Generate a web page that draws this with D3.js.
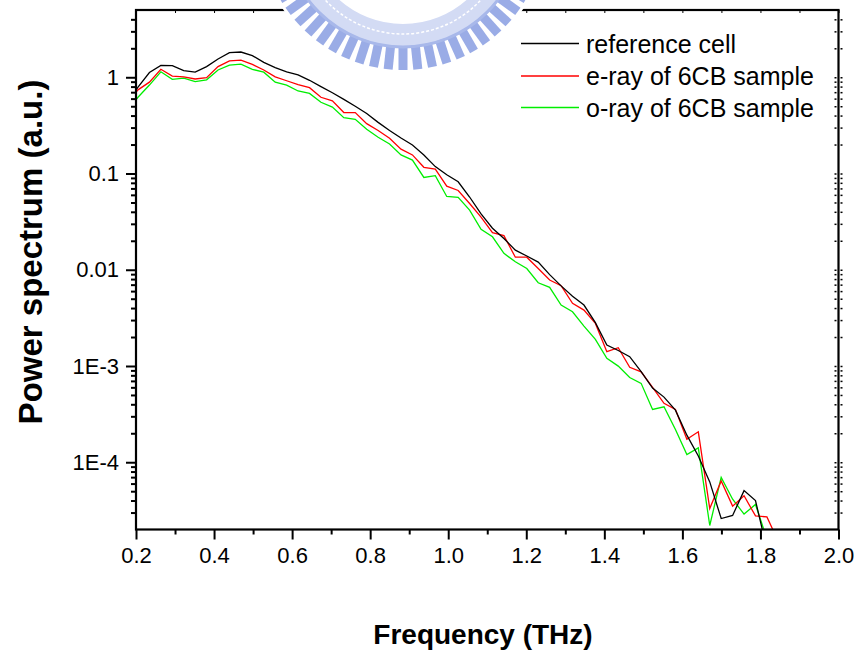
<!DOCTYPE html>
<html>
<head>
<meta charset="utf-8">
<script src="https://cdn.jsdelivr.net/npm/d3@7/dist/d3.min.js"></script>
<style>
  html, body { margin: 0; padding: 0; background: #fff; }
  svg { display: block; }
  text { font-family: Arial, "Liberation Sans", sans-serif; }
</style>
</head>
<body>
<svg id="chart" width="858" height="656"></svg>
<script>
// ---------------- data ----------------
const freqs = [0.1758, 0.2051, 0.2344, 0.2637, 0.2930, 0.3223, 0.3516, 0.3809, 0.4102, 0.4395,
  0.4688, 0.4981, 0.5274, 0.5567, 0.5860, 0.6153, 0.6446, 0.6739, 0.7032, 0.7325,
  0.7618, 0.7911, 0.8204, 0.8497, 0.8790, 0.9083, 0.9376, 0.9669, 0.9962, 1.0255,
  1.0548, 1.0841, 1.1134, 1.1427, 1.1720, 1.2013, 1.2306, 1.2599, 1.2892, 1.3185,
  1.3478, 1.3771, 1.4064, 1.4357, 1.4650, 1.4943, 1.5236, 1.5529, 1.5822, 1.6115,
  1.6408, 1.6701, 1.6994, 1.7287, 1.7580, 1.7873, 1.8166, 1.8459];

const refCell = [0.53, 0.79, 1.12, 1.33, 1.32, 1.17, 1.13, 1.29, 1.55, 1.80,
  1.83, 1.68, 1.43, 1.26, 1.14, 1.06, 0.93, 0.80, 0.69, 0.59,
  0.50, 0.42, 0.34, 0.28, 0.234, 0.198, 0.156, 0.118, 0.097, 0.082,
  0.057, 0.038, 0.027, 0.0211, 0.0160, 0.0139, 0.0120, 0.0089, 0.0068, 0.0053,
  0.0043, 0.00282, 0.00165, 0.00145, 0.00125, 0.000875, 0.000589, 0.000475, 0.000348, 0.000191,
  0.000116, 6.25e-5, 2.6e-5, 2.8e-5, 5.07e-5, 4.0e-5, 1.25e-5];

const eRay = [0.54, 0.74, 0.89, 1.21, 1.03, 1.01, 0.96, 0.99, 1.29, 1.48,
  1.51, 1.36, 1.19, 1.01, 0.92, 0.84, 0.78, 0.62, 0.57, 0.43,
  0.43, 0.33, 0.28, 0.232, 0.179, 0.156, 0.116, 0.111, 0.074, 0.0666,
  0.0488, 0.0353, 0.0243, 0.0226, 0.0135, 0.0135, 0.0103, 0.00781, 0.00682, 0.00448,
  0.00381, 0.00277, 0.00141, 0.00155, 0.00097, 0.00087, 0.0006, 0.00041, 0.000354, 0.000173,
  0.000207, 3.3e-5, 6.4e-5, 3.5e-5, 4.48e-5, 2.77e-5, 2.7e-5, 1.5e-5];

const oRay = [0.44, 0.62, 0.83, 1.14, 0.95, 0.98, 0.90, 0.94, 1.19, 1.34,
  1.37, 1.21, 1.13, 0.89, 0.83, 0.72, 0.68, 0.55, 0.49, 0.38,
  0.366, 0.288, 0.238, 0.203, 0.156, 0.138, 0.091, 0.095, 0.0577, 0.0566,
  0.0417, 0.0263, 0.0220, 0.0148, 0.0121, 0.0103, 0.00733, 0.00656, 0.00430, 0.00366,
  0.0026, 0.00189, 0.0012, 0.000997, 0.00076, 0.00066, 0.000354, 0.000377, 0.000219, 0.00012,
  0.000141, 2.2e-5, 6.95e-5, 4.13e-5, 2.89e-5, 3.64e-5, 1.6e-5];

const seriesNames = ["reference cell", "e-ray of 6CB sample", "o-ray of 6CB sample"];
const seriesColors = ["#000000", "#ff0000", "#00ee00"];

const xMajorTicks = [0.2, 0.4, 0.6, 0.8, 1.0, 1.2, 1.4, 1.6, 1.8, 2.0];
const xTickLabels = ["0.2", "0.4", "0.6", "0.8", "1.0", "1.2", "1.4", "1.6", "1.8", "2.0"];
const xMinorTicks = [0.3, 0.5, 0.7, 0.9, 1.1, 1.3, 1.5, 1.7, 1.9];
const yMajorTicks = [1e-4, 1e-3, 1e-2, 1e-1, 1];
const yTickLabels = ["1E-4", "1E-3", "0.01", "0.1", "1"];
const yMinorTicks = [3e-5, 4e-5, 5e-5, 6e-5, 7e-5, 8e-5, 9e-5,
  2e-4, 3e-4, 4e-4, 5e-4, 6e-4, 7e-4, 8e-4, 9e-4,
  2e-3, 3e-3, 4e-3, 5e-3, 6e-3, 7e-3, 8e-3, 9e-3,
  2e-2, 3e-2, 4e-2, 5e-2, 6e-2, 7e-2, 8e-2, 9e-2,
  0.2, 0.3, 0.4, 0.5, 0.6, 0.7, 0.8, 0.9, 2, 3, 4];

const xTitle = "Frequency (THz)";
const yTitle = "Power spectrum (a.u.)";

// ---------------- layout ----------------
const svg = d3.select("#chart");
const L = 136, R = 838.5, T = 10, B = 529.5;

const x = d3.scaleLinear().domain([0.2, 2.0]).range([L, R]);
const y = d3.scaleLog().domain([2e-5, 5]).range([B, T]);

svg.append("defs").append("clipPath").attr("id", "plotclip")
  .append("rect").attr("x", L).attr("y", T).attr("width", R - L).attr("height", B - T);

// data lines
const seriesData = [refCell, eRay, oRay];
const line = d3.line().x(d => x(d[0])).y(d => y(d[1]));
const plot = svg.append("g").attr("clip-path", "url(#plotclip)");
[2, 1, 0].forEach(i => {
  const pts = seriesData[i].map((v, k) => [freqs[k], v]);
  plot.append("path").datum(pts)
    .attr("d", line)
    .attr("fill", "none")
    .attr("stroke", seriesColors[i])
    .attr("stroke-width", 1.3)
    .attr("stroke-linejoin", "miter");
});

// axes
const axisStyle = g => {
  g.select(".domain").remove();
  g.selectAll("line").attr("stroke", "#000").attr("stroke-width", 2);
  g.selectAll("text").attr("fill", "#000").attr("font-size", 22);
};

// bottom
svg.append("g").attr("transform", `translate(0,${B})`)
  .call(d3.axisBottom(x).tickValues(xMajorTicks).tickSize(10).tickPadding(8)
    .tickFormat((d, i) => xTickLabels[i]))
  .call(axisStyle);
svg.append("g").attr("transform", `translate(0,${B})`)
  .call(d3.axisBottom(x).tickValues(xMinorTicks).tickSize(5).tickFormat(""))
  .call(axisStyle);
// top (small inward ticks)
svg.append("g").attr("transform", `translate(0,${T})`)
  .call(d3.axisBottom(x).tickValues(xMajorTicks.concat(xMinorTicks)).tickSize(3).tickFormat(""))
  .call(axisStyle)
  .selectAll("line").attr("stroke-width", 1);
// left
svg.append("g").attr("transform", `translate(${L},0)`)
  .call(d3.axisLeft(y).tickValues(yMajorTicks).tickSize(10).tickPadding(7)
    .tickFormat((d, i) => yTickLabels[i]))
  .call(axisStyle);
svg.append("g").attr("transform", `translate(${L},0)`)
  .call(d3.axisLeft(y).tickValues(yMinorTicks).tickSize(5).tickFormat(""))
  .call(axisStyle);
// right (tiny ticks both sides)
svg.append("g").attr("transform", `translate(${R + 2},0)`)
  .call(d3.axisRight(y).tickValues(yMajorTicks.concat(yMinorTicks)).tickSize(2).tickFormat(""))
  .call(axisStyle)
  .selectAll("line").attr("stroke-width", 1.5);
svg.append("g").attr("transform", `translate(${R - 2},0)`)
  .call(d3.axisLeft(y).tickValues(yMajorTicks.concat(yMinorTicks)).tickSize(2).tickFormat(""))
  .call(axisStyle)
  .selectAll("line").attr("stroke-width", 1.5);

// frame
svg.append("rect").attr("x", L).attr("y", T).attr("width", R - L).attr("height", B - T)
  .attr("fill", "none").attr("stroke", "#000").attr("stroke-width", 2.2);

// axis titles
svg.append("text").attr("x", 483).attr("y", 644).attr("text-anchor", "middle")
  .attr("font-size", 28).attr("font-weight", "bold").text(xTitle);
svg.append("text").attr("transform", "translate(42,252) rotate(-90)")
  .attr("text-anchor", "middle").attr("font-size", 33).attr("font-weight", "bold").text(yTitle);

// legend
const legY = [43.5, 76, 107.5];
seriesNames.forEach((name, i) => {
  svg.append("line").attr("x1", 521).attr("x2", 579).attr("y1", legY[i]).attr("y2", legY[i])
    .attr("stroke", seriesColors[i]).attr("stroke-width", 1.3);
  svg.append("text").attr("x", 586).attr("y", legY[i] + 9).attr("font-size", 25)
    .attr("fill", "#000").text(name);
});

// watermark emblem (decorative, partially visible at top)
const wm = svg.append("g").attr("transform", "translate(403,-72)");
wm.append("circle").attr("r", 145).attr("fill", "#fff");
wm.append("circle").attr("r", 108).attr("fill", "none").attr("stroke", "#d3dbf4").attr("stroke-width", 24);
wm.append("circle").attr("r", 106).attr("fill", "none").attr("stroke", "#ffffff")
  .attr("stroke-width", 1.5).attr("stroke-dasharray", "3,2");
const nTeeth = 60;
d3.range(nTeeth).forEach(k => {
  const a = k * 360 / nTeeth;
  wm.append("rect").attr("x", -4.5).attr("y", 118).attr("width", 9).attr("height", 24)
    .attr("fill", "#9aace6").attr("transform", `rotate(${a})`);
});
wm.append("circle").attr("r", 119).attr("fill", "none").attr("stroke", "#a8b8ea").attr("stroke-width", 3);
</script>
</body>
</html>
